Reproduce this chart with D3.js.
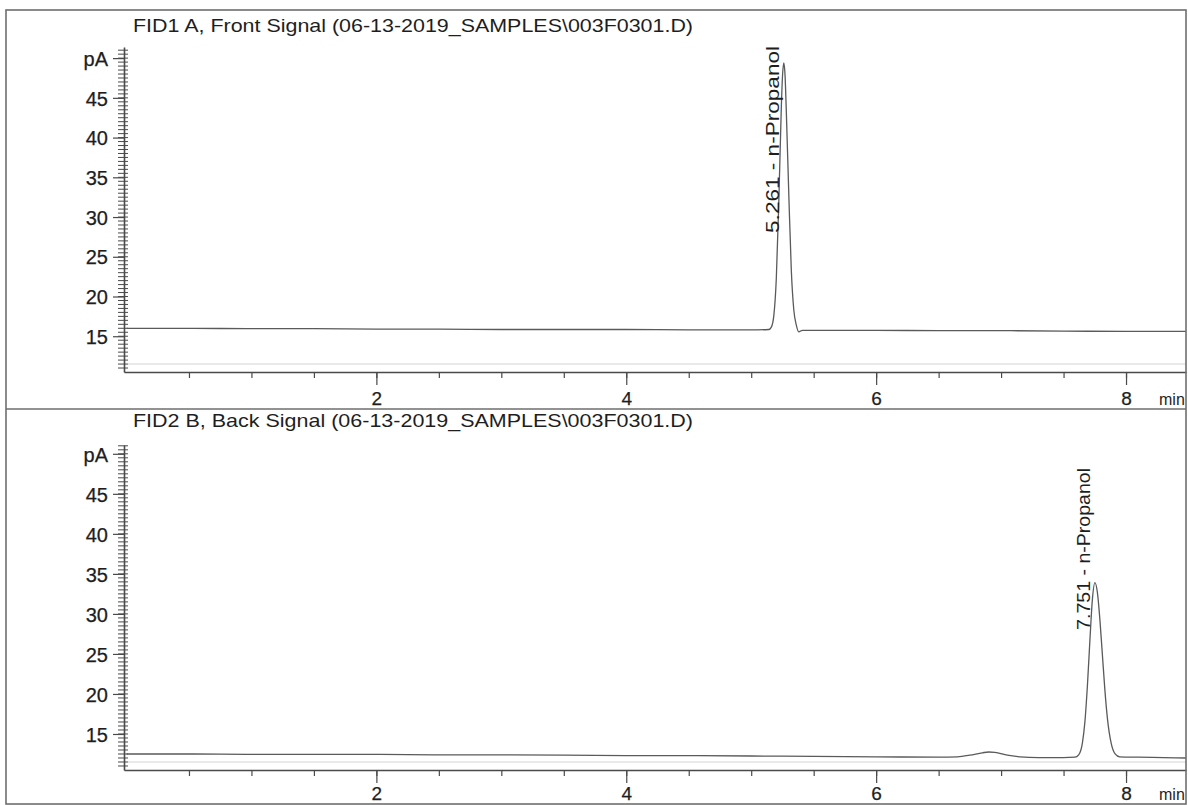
<!DOCTYPE html>
<html>
<head>
<meta charset="utf-8">
<script src="https://cdn.jsdelivr.net/npm/d3@7"></script>
<style>
  body { margin: 0; background: #fff; }
  svg { display: block; }
  text { font-family: "Liberation Sans", Arial, sans-serif; fill: #1e1e1e; }
</style>
</head>
<body>
<svg id="chart" width="1188" height="805"></svg>
<script>
// FID1 A (front detector) trace: retention time (min) and signal (pA)
const frontTime = [0, 0.5, 1, 1.5, 2, 2.5, 3, 3.5, 4, 4.5, 5,
  5.141, 5.161, 5.181, 5.201, 5.221, 5.241, 5.251, 5.261, 5.271, 5.281, 5.301, 5.321, 5.341, 5.361, 5.381, 5.41,
  5.6, 6, 6.5, 7, 7.5, 8, 8.48];
const frontSignal = [16.0, 16.0, 15.95, 15.95, 15.9, 15.9, 15.85, 15.85, 15.85, 15.8, 15.8,
  15.85, 16.15, 17.6, 22.3, 31.9, 43.8, 47.9, 49.4, 47.8, 43.3, 32.8, 23.3, 18.3, 16.4, 15.55, 15.75,
  15.75, 15.75, 15.7, 15.7, 15.65, 15.6, 15.6];

// FID2 B (back detector) trace
const backTime = [0, 0.5, 1, 1.5, 2, 2.5, 3, 3.5, 4, 4.5, 5, 5.5, 6, 6.5,
  6.65, 6.75, 6.85, 6.9, 6.95, 7.05, 7.15, 7.3, 7.5,
  7.591, 7.621, 7.651, 7.671, 7.691, 7.711, 7.731, 7.751, 7.771, 7.791, 7.811, 7.831, 7.851, 7.881, 7.911, 7.95,
  8.1, 8.3, 8.48];
const backSignal = [12.5, 12.5, 12.45, 12.45, 12.45, 12.4, 12.4, 12.35, 12.3, 12.3, 12.25, 12.2, 12.15, 12.1,
  12.15, 12.35, 12.65, 12.75, 12.7, 12.35, 12.15, 12.05, 12.05,
  12.1, 12.4, 13.9, 16.55, 21.05, 26.75, 31.85, 33.9, 32.65, 29.25, 24.85, 20.45, 16.95, 13.85, 12.55, 12.15,
  12.1, 12.05, 12.0];

// Integrated peaks (one per signal)
const peakTimes = [5.261, 7.751];
const peakNames = ["n-Propanol", "n-Propanol"];

const panelTitles = [
  "FID1 A, Front Signal (06-13-2019_SAMPLES\\003F0301.D)",
  "FID2 B, Back Signal (06-13-2019_SAMPLES\\003F0301.D)"
];
const xTickLabels = [2, 4, 6, 8];
const yTickLabels = [15, 20, 25, 30, 35, 40, 45];
const yUnitTick = 50;
const yUnit = "pA";
const xUnit = "min";

const svg = d3.select("#chart");
const frameLeft = 6, frameRight = 1186;

const panels = [
  { time: frontTime, signal: frontSignal, title: panelTitles[0], peak: 0,
    frameTop: 10, frameBottom: 409, plotTop: 47, plotBottom: 372, yDomain: [10.5, 51.4],
    titleY: 32, labelLen: 187, tickLabelY: 33 },
  { time: backTime, signal: backSignal, title: panelTitles[1], peak: 1,
    frameTop: 409, frameBottom: 804, plotTop: 445, plotBottom: 770, yDomain: [10.5, 51.1],
    titleY: 427, labelLen: 162, tickLabelY: 30 }
];

const x = d3.scaleLinear().domain([-0.02, 8.48]).range([124, frameRight]);
const plotLeft = x(-0.02);

const frameColor = "#6e6e6e";
const axisColor = "#4a4a4a";
const traceColor = "#5a5a5a";
const inkColor = "#1e1e1e";

panels.forEach(p => {
  const y = d3.scaleLinear().domain(p.yDomain).range([p.plotBottom, p.plotTop]);
  const g = svg.append("g");

  // faint inner plot boundary just above the time axis
  g.append("line")
    .attr("x1", plotLeft + 4).attr("x2", frameRight)
    .attr("y1", p.plotBottom - 8).attr("y2", p.plotBottom - 8)
    .attr("stroke", "#d4d4d4").attr("stroke-width", 1);

  // title
  g.append("text")
    .attr("x", 133).attr("y", p.titleY)
    .attr("font-size", 19)
    .attr("textLength", 560).attr("lengthAdjust", "spacingAndGlyphs")
    .text(p.title);

  // y axis: minor ticks every 0.5 pA crossing the axis line
  g.append("g").selectAll("line")
    .data(d3.range(11, 51.01, 0.5))
    .join("line")
    .attr("x1", plotLeft - 6).attr("x2", plotLeft + 4)
    .attr("y1", d => y(d)).attr("y2", d => y(d))
    .attr("stroke", axisColor).attr("stroke-width", 1);

  // y axis: major ticks + labels
  const yAxis = d3.axisLeft(y)
    .tickValues(yTickLabels.concat([yUnitTick]))
    .tickSizeInner(11).tickSizeOuter(0)
    .tickFormat(d => d === yUnitTick ? yUnit : d);
  const ya = g.append("g").attr("transform", `translate(${plotLeft},0)`).call(yAxis);
  ya.select(".domain").attr("stroke", axisColor).attr("stroke-width", 1.6);
  ya.selectAll(".tick line").attr("stroke", axisColor).attr("stroke-width", 1.2);
  ya.selectAll(".tick text")
    .attr("font-family", null).attr("font-size", 20)
    .attr("x", -16).attr("dy", "0.36em")
    .attr("fill", inkColor)
    .attr("stroke", inkColor).attr("stroke-width", 0.25);

  // x axis: minor ticks every 0.5 min
  const xMinor = d3.axisBottom(x)
    .tickValues(d3.range(0.5, 8.49, 0.5))
    .tickSizeInner(6).tickSizeOuter(0).tickFormat("");
  const xm = g.append("g").attr("transform", `translate(0,${p.plotBottom})`).call(xMinor);
  xm.select(".domain").attr("stroke", axisColor).attr("stroke-width", 1.6);
  xm.selectAll(".tick line").attr("stroke", axisColor).attr("stroke-width", 1.2);

  // x axis: labelled major ticks
  const xMajor = d3.axisBottom(x)
    .tickValues(xTickLabels)
    .tickSizeInner(13).tickSizeOuter(0).tickFormat(d3.format("d"));
  const xa = g.append("g").attr("transform", `translate(0,${p.plotBottom})`).call(xMajor);
  xa.select(".domain").remove();
  xa.selectAll(".tick line").attr("stroke", axisColor).attr("stroke-width", 1.2);
  xa.selectAll(".tick text")
    .attr("font-family", null).attr("font-size", 19)
    .attr("y", p.tickLabelY).attr("dy", null)
    .attr("fill", inkColor)
    .attr("stroke", inkColor).attr("stroke-width", 0.25);

  g.append("text")
    .attr("x", 1159).attr("y", p.plotBottom + p.tickLabelY)
    .attr("font-size", 16)
    .text(xUnit);

  // signal trace
  const pts = p.time.map((t, i) => [t, p.signal[i]]);
  const line = d3.line()
    .x(d => x(d[0])).y(d => y(d[1]))
    .curve(d3.curveMonotoneX);
  g.append("path")
    .datum(pts)
    .attr("d", line)
    .attr("fill", "none")
    .attr("stroke", traceColor)
    .attr("stroke-width", 1.3);

  // peak annotation: retention time and compound name, rotated
  const rt = peakTimes[p.peak];
  const lx = x(rt) - 5, ly = y(28);
  g.append("text")
    .attr("transform", `translate(${lx},${ly}) rotate(-90)`)
    .attr("font-size", 19)
    .attr("textLength", p.labelLen).attr("lengthAdjust", "spacingAndGlyphs")
    .text(`${rt.toFixed(3)} -  ${peakNames[p.peak]}`);
});

// outer frame and panel separator
const frame = svg.append("g").attr("stroke", frameColor).attr("stroke-width", 1.6).attr("fill", "none");
frame.append("rect")
  .attr("x", frameLeft).attr("y", panels[0].frameTop)
  .attr("width", frameRight - frameLeft).attr("height", panels[1].frameBottom - panels[0].frameTop);
frame.append("line")
  .attr("x1", frameLeft).attr("x2", frameRight)
  .attr("y1", panels[1].frameTop).attr("y2", panels[1].frameTop);
</script>
</body>
</html>
